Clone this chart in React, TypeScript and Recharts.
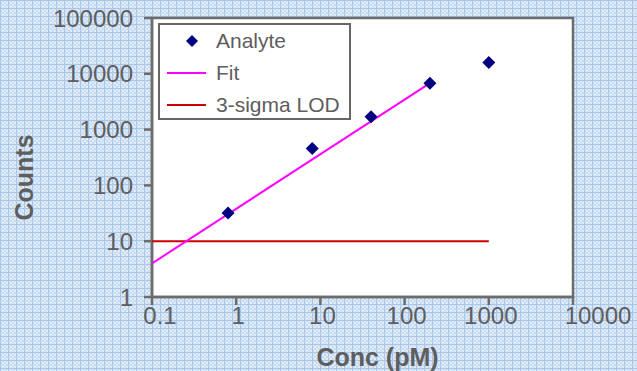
import React from 'react';
import {
  ScatterChart,
  Scatter,
  XAxis,
  YAxis,
  ReferenceArea,
  Legend
} from 'recharts';

// measured points (Conc in pM, Counts)
const analyteConc = [0.8, 8, 40, 200, 1000];
const analyteCounts = [32, 460, 1700, 6800, 16000];

// fitted line end points
const fitConc = [0.1, 200];
const fitCounts = [4, 6800];

// 3-sigma limit of detection
const lodConc = [0.1, 1000];
const lodCounts = [10, 10];

const xTicks = [0.1, 1, 10, 100, 1000, 10000];
const yTicks = [1, 10, 100, 1000, 10000, 100000];

const analyteData = analyteConc.map((x, i) => ({ x, y: analyteCounts[i] }));
const fitData = fitConc.map((x, i) => ({ x, y: fitCounts[i] }));
const lodData = lodConc.map((x, i) => ({ x, y: lodCounts[i] }));

const FONT = '"Liberation Sans", Arial, sans-serif';
const GREY = '#5e5e5e';
const AXIS = '#6c6c6c';

const Diamond = (props: any) => {
  const { cx, cy } = props;
  if (cx == null || cy == null) return <g />;
  const r = 6.5;
  return (
    <polygon
      points={`${cx},${cy - r} ${cx + r},${cy} ${cx},${cy + r} ${cx - r},${cy}`}
      fill="#000080"
    />
  );
};

const NoDot = () => <g />;

// the first and last x labels sit a little right of their ticks, as in the original
const XTick = (props: any) => {
  const { x, y, payload, index } = props;
  let dx = 2;
  if (index === 0) dx = 8;
  if (index === xTicks.length - 1) dx = 25;
  return (
    <text
      x={x + dx}
      y={y + 17}
      textAnchor="middle"
      fill={GREY}
      fontFamily={FONT}
      fontSize={24}
    >
      {String(payload.value)}
    </text>
  );
};

const YTitle = (props: any) => {
  const vb = props.viewBox || { x: 0, y: 0, height: 0 };
  const x = vb.x + 33;
  const y = vb.y + vb.height / 2 + 20;
  return (
    <text
      x={x}
      y={y}
      transform={`rotate(-90, ${x}, ${y})`}
      textAnchor="middle"
      fill={GREY}
      fontFamily={FONT}
      fontSize={25}
      fontWeight="bold"
    >
      Counts
    </text>
  );
};

const XTitle = (props: any) => {
  const vb = props.viewBox || { x: 0, y: 0, width: 0 };
  return (
    <text
      x={vb.x + vb.width / 2 + 15}
      y={vb.y + 69}
      textAnchor="middle"
      fill={GREY}
      fontFamily={FONT}
      fontSize={25}
      fontWeight="bold"
    >
      Conc (pM)
    </text>
  );
};

const LegendBox = () => (
  <div
    style={{
      width: 193,
      height: 97,
      boxSizing: 'border-box',
      border: '2px solid #666',
      background: '#fff',
      fontFamily: FONT,
      fontSize: 21,
      color: GREY
    }}
  >
    {[
      { name: 'Analyte', kind: 'dot', color: '#000080' },
      { name: 'Fit', kind: 'line', color: '#ff00ff' },
      { name: '3-sigma LOD', kind: 'line', color: '#cc0000' }
    ].map((item) => (
      <div key={item.name} style={{ display: 'flex', alignItems: 'center', height: 32 }}>
        <svg width={56} height={20} style={{ flex: 'none' }}>
          {item.kind === 'dot' ? (
            <polygon points="32,4 38,10 32,16 26,10" fill={item.color} />
          ) : (
            <line x1={7} y1={10} x2={46} y2={10} stroke={item.color} strokeWidth={2} />
          )}
        </svg>
        <span>{item.name}</span>
      </div>
    ))}
  </div>
);

const App: React.FC = () => {
  return (
    <div
      style={{
        position: 'absolute',
        left: 0,
        top: 0,
        width: 637,
        height: 371,
        backgroundColor: '#d4e4f6',
        backgroundImage:
          'linear-gradient(to right, #a9c7ea 1px, transparent 1px), linear-gradient(to bottom, #a9c7ea 1px, transparent 1px), repeating-conic-gradient(#c7dbf2 0 25%, #e2ecf8 0 50%)',
        backgroundSize: '8px 8px, 8px 8px, 4px 4px'
      }}
    >
      <ScatterChart
        width={637}
        height={371}
        margin={{ top: 18, right: 64, bottom: 0, left: 0 }}
      >
        <XAxis
          dataKey="x"
          type="number"
          scale="log"
          domain={[0.1, 10000]}
          ticks={xTicks}
          allowDataOverflow
          height={74}
          tick={<XTick />}
          tickSize={8}
          stroke={AXIS}
          strokeWidth={2.5}
          label={<XTitle />}
        />
        <YAxis
          dataKey="y"
          type="number"
          scale="log"
          domain={[1, 100000]}
          ticks={yTicks}
          allowDataOverflow
          width={152}
          tickFormatter={(v) => String(v)}
          tick={{ fill: GREY, fontSize: 24, fontFamily: FONT }}
          tickSize={8}
          tickMargin={11}
          stroke={AXIS}
          strokeWidth={2.5}
          label={<YTitle />}
        />
        <ReferenceArea
          x1={0.1}
          x2={10000}
          y1={1}
          y2={100000}
          fill="#ffffff"
          fillOpacity={1}
          stroke={AXIS}
          strokeWidth={2.5}
        />
        <Scatter
          name="3-sigma LOD"
          data={lodData}
          line={{ stroke: '#cc0000', strokeWidth: 2 }}
          shape={NoDot}
          isAnimationActive={false}
        />
        <Scatter
          name="Fit"
          data={fitData}
          line={{ stroke: '#ff00ff', strokeWidth: 2 }}
          shape={NoDot}
          isAnimationActive={false}
        />
        <Scatter
          name="Analyte"
          data={analyteData}
          shape={Diamond}
          isAnimationActive={false}
        />
        <Legend
          layout="vertical"
          align="center"
          verticalAlign="middle"
          content={<LegendBox />}
          wrapperStyle={{ left: 158, top: 23, width: 193, height: 97 }}
        />
      </ScatterChart>
    </div>
  );
};

export default App;
